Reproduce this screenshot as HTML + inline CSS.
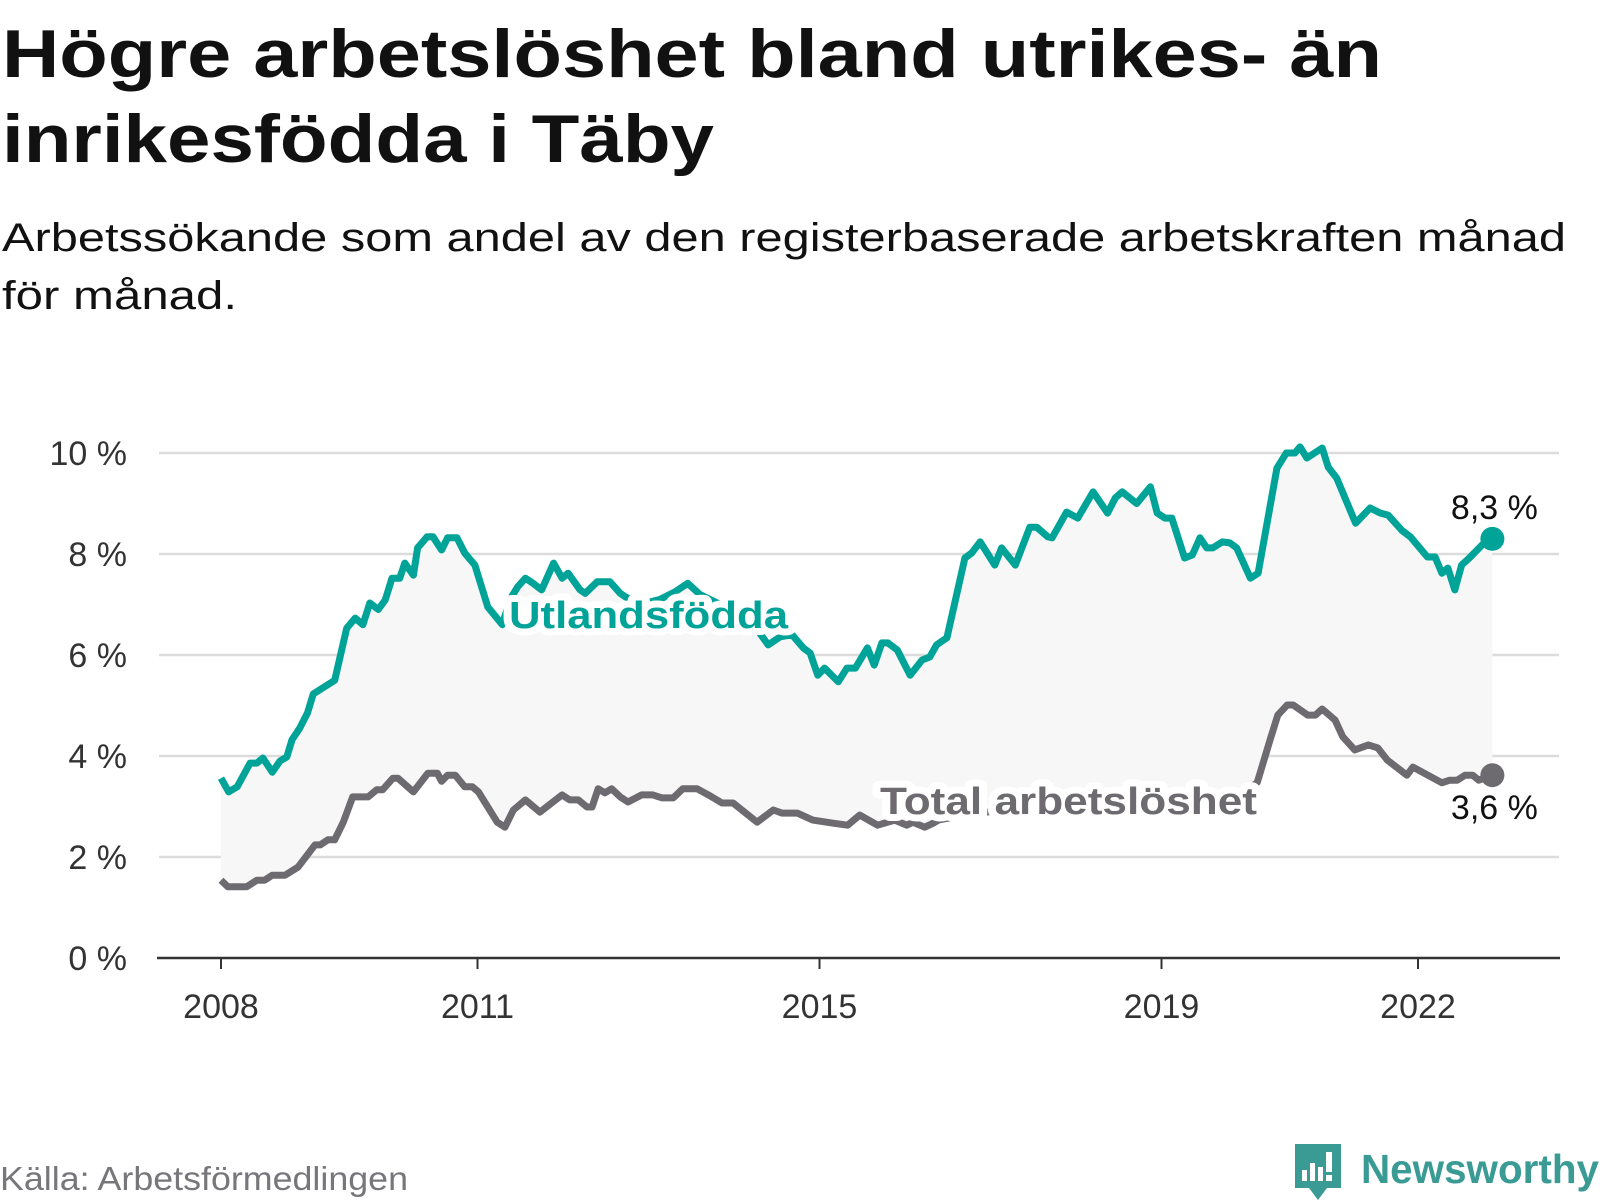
<!DOCTYPE html>
<html><head><meta charset="utf-8">
<style>
html,body{margin:0;padding:0;background:#fff;}
svg{display:block;font-family:"Liberation Sans",sans-serif;}
</style></head>
<body>
<svg id="chart" width="1600" height="1200" viewBox="0 0 1600 1200">
  <text x="2" y="77" font-size="68" font-weight="bold" fill="#111" textLength="1380" lengthAdjust="spacingAndGlyphs">Högre arbetslöshet bland utrikes- än</text>
  <text x="2" y="162" font-size="68" font-weight="bold" fill="#111" textLength="712" lengthAdjust="spacingAndGlyphs">inrikesfödda i Täby</text>
  <text x="2" y="251" font-size="40" fill="#111" textLength="1564" lengthAdjust="spacingAndGlyphs">Arbetssökande som andel av den registerbaserade arbetskraften månad</text>
  <text x="2" y="309" font-size="40" fill="#111" textLength="235" lengthAdjust="spacingAndGlyphs">för månad.</text>
  <g id="grid"></g>
  <g id="area"></g>
  <g id="lines"></g>
  <g id="labels"></g>
  <text x="0" y="1190" font-size="33" fill="#77767a" textLength="408" lengthAdjust="spacingAndGlyphs">Källa: Arbetsförmedlingen</text>
  <g>
    <path d="M1295 1144 h46 v44 h-14 l-9 12 l-9 -12 h-14 z" fill="#3a9a94"/>
    <rect x="1302" y="1170" width="5" height="11" fill="#fff"/>
    <rect x="1310" y="1163" width="5" height="18" fill="#fff"/>
    <rect x="1318" y="1167" width="5" height="14" fill="#fff"/>
    <rect x="1326" y="1152" width="6" height="20" fill="#fff"/>
    <rect x="1326" y="1175" width="6" height="6" fill="#fff"/>
    <text x="1361" y="1183" font-size="41" font-weight="bold" fill="#3a9a94" textLength="238" lengthAdjust="spacingAndGlyphs">Newsworthy</text>
  </g>
</svg>
<script>
const yTicks = [0, 2, 4, 6, 8, 10];
const xTicks = [2008, 2011, 2015, 2019, 2022];
const utlDates = [2008.0,2008.09,2008.19,2008.34,2008.42,2008.49,2008.60,2008.69,2008.77,2008.83,2008.92,2009.01,2009.08,2009.33,2009.47,2009.57,2009.66,2009.74,2009.84,2009.92,2010.00,2010.09,2010.15,2010.25,2010.30,2010.41,2010.48,2010.58,2010.65,2010.76,2010.85,2010.97,2011.12,2011.29,2011.38,2011.47,2011.56,2011.65,2011.75,2011.89,2011.99,2012.06,2012.20,2012.26,2012.40,2012.55,2012.67,2012.73,2012.90,2013.13,2013.31,2013.46,2013.60,2013.84,2014.07,2014.19,2014.34,2014.40,2014.54,2014.68,2014.81,2014.89,2014.98,2015.06,2015.22,2015.32,2015.42,2015.56,2015.64,2015.73,2015.80,2015.91,2016.06,2016.20,2016.29,2016.37,2016.49,2016.70,2016.78,2016.88,2017.05,2017.13,2017.29,2017.46,2017.54,2017.67,2017.72,2017.89,2018.02,2018.20,2018.37,2018.46,2018.54,2018.71,2018.87,2018.95,2019.04,2019.12,2019.27,2019.36,2019.45,2019.53,2019.60,2019.71,2019.80,2019.88,2020.04,2020.13,2020.35,2020.46,2020.56,2020.62,2020.70,2020.88,2020.95,2021.05,2021.27,2021.44,2021.56,2021.65,2021.81,2021.91,2022.02,2022.11,2022.20,2022.28,2022.35,2022.43,2022.51,2022.60,2022.75,2022.87];
const utlValues = [3.56,3.29,3.39,3.86,3.86,3.96,3.68,3.9,3.98,4.32,4.55,4.85,5.23,5.5,6.53,6.73,6.6,7.03,6.9,7.09,7.52,7.52,7.82,7.58,8.12,8.34,8.34,8.08,8.32,8.32,8.02,7.78,6.95,6.6,7.1,7.35,7.52,7.42,7.29,7.82,7.52,7.62,7.29,7.22,7.45,7.45,7.22,7.15,7.0,7.1,7.25,7.42,7.2,7.0,6.9,6.7,6.34,6.2,6.36,6.4,6.14,6.04,5.6,5.74,5.47,5.74,5.74,6.14,5.8,6.24,6.24,6.1,5.6,5.9,5.96,6.2,6.34,7.92,8.02,8.24,7.78,8.12,7.78,8.53,8.53,8.34,8.32,8.83,8.71,9.23,8.81,9.11,9.23,9.0,9.33,8.81,8.71,8.71,7.92,7.98,8.32,8.12,8.12,8.24,8.22,8.12,7.52,7.62,9.7,10.0,10.0,10.12,9.9,10.1,9.72,9.5,8.61,8.91,8.81,8.77,8.47,8.34,8.12,7.94,7.94,7.62,7.72,7.29,7.78,7.92,8.18,8.3];
const totDates = [2008.0,2008.08,2008.30,2008.42,2008.51,2008.60,2008.75,2008.90,2009.10,2009.16,2009.25,2009.33,2009.43,2009.54,2009.72,2009.82,2009.89,2010.01,2010.07,2010.25,2010.42,2010.53,2010.58,2010.65,2010.74,2010.85,2010.94,2011.01,2011.23,2011.32,2011.42,2011.56,2011.73,2011.99,2012.08,2012.18,2012.28,2012.34,2012.41,2012.49,2012.57,2012.67,2012.76,2012.92,2013.05,2013.16,2013.29,2013.40,2013.57,2013.70,2013.86,2013.99,2014.27,2014.46,2014.56,2014.74,2014.92,2015.16,2015.33,2015.47,2015.68,2015.88,2016.02,2016.09,2016.23,2016.33,2016.39,2016.6,2017.0,2017.5,2018.0,2018.5,2019.0,2019.5,2020.0,2020.12,2020.27,2020.36,2020.47,2020.54,2020.71,2020.80,2020.88,2021.03,2021.12,2021.26,2021.42,2021.53,2021.64,2021.87,2021.94,2022.28,2022.37,2022.46,2022.55,2022.64,2022.71,2022.87];
const totValues = [1.54,1.41,1.41,1.54,1.54,1.64,1.64,1.8,2.24,2.24,2.34,2.34,2.69,3.19,3.19,3.33,3.33,3.56,3.56,3.29,3.66,3.66,3.5,3.62,3.62,3.39,3.39,3.29,2.69,2.59,2.93,3.13,2.89,3.23,3.13,3.13,2.99,2.99,3.35,3.27,3.35,3.19,3.09,3.23,3.23,3.17,3.17,3.35,3.35,3.23,3.07,3.07,2.69,2.93,2.87,2.87,2.73,2.67,2.63,2.83,2.63,2.73,2.63,2.69,2.59,2.67,2.73,2.8,2.9,2.85,2.95,3.0,3.1,3.2,3.3,3.48,4.32,4.81,5.01,5.01,4.81,4.81,4.93,4.71,4.38,4.12,4.22,4.16,3.92,3.62,3.78,3.47,3.52,3.52,3.62,3.62,3.52,3.62];

const NS = 'http://www.w3.org/2000/svg';
function xScale(t){ return 221 + (t - 2008) * 85.5; }
function yScale(v){ return 958 - v * 50.5; }
function mk(tag, attrs, parent){
  const e = document.createElementNS(NS, tag);
  for (const k in attrs) e.setAttribute(k, attrs[k]);
  parent.appendChild(e);
  return e;
}
const grid = document.getElementById('grid');
yTicks.forEach(v => {
  if (v > 0) {
    const gl = mk('line', {x1:159, x2:1559, y1:yScale(v), y2:yScale(v), stroke:'#dcdcdc', 'stroke-width':2.5}, grid);
    
    
  }
  const t = mk('text', {x:127, y:yScale(v)+12, 'text-anchor':'end', 'font-size':34, fill:'#333'}, grid);
  t.textContent = v + ' %';
  
  
});
const ax = mk('line', {x1:157, x2:1560, y1:958, y2:958, stroke:'#333', 'stroke-width':2.5}, grid);


xTicks.forEach(yr => {
  const tk = mk('line', {x1:xScale(yr), x2:xScale(yr), y1:958, y2:969, stroke:'#333', 'stroke-width':2}, grid);
  
  
  const t = mk('text', {x:xScale(yr), y:1018, 'text-anchor':'middle', 'font-size':34, fill:'#333'}, grid);
  t.textContent = yr;
  
  
});
function pts(d, v){ return d.map((t,i)=>xScale(t).toFixed(1)+','+yScale(v[i]).toFixed(1)); }
const up = pts(utlDates, utlValues), tp = pts(totDates, totValues).reverse();
const band = mk('polygon', {points: up.concat(tp).join(' '), fill:'#f7f7f7'}, document.getElementById('area'));


const lines = document.getElementById('lines');
const lt = mk('polyline', {points: pts(totDates, totValues).join(' '), fill:'none', stroke:'#6d6b70', 'stroke-width':7, 'stroke-linejoin':'round'}, lines);


const lu = mk('polyline', {points: up.join(' '), fill:'none', stroke:'#00a398', 'stroke-width':7, 'stroke-linejoin':'round'}, lines);


const lastU = utlValues[utlValues.length-1], lastT = totValues[totValues.length-1];
const lastUd = utlDates[utlDates.length-1], lastTd = totDates[totDates.length-1];
const du = mk('circle', {cx:xScale(lastUd), cy:yScale(lastU), r:12, fill:'#00a398'}, lines);


const dt = mk('circle', {cx:xScale(lastTd), cy:yScale(lastT), r:12, fill:'#6d6b70'}, lines);


const lab = document.getElementById('labels');
function label(txt, x, y, size, color, bold, anchor, len, name){
  const h = mk('text', {x:x, y:y, 'font-size':size, 'font-weight':bold?'bold':'normal', 'text-anchor':anchor, stroke:'#fff', 'stroke-width':14, 'stroke-linejoin':'round', fill:'#fff'}, lab);
  if (len) { h.setAttribute('textLength', len); h.setAttribute('lengthAdjust','spacingAndGlyphs'); }
  h.textContent = txt;
  
  
  const t = mk('text', {x:x, y:y, 'font-size':size, 'font-weight':bold?'bold':'normal', 'text-anchor':anchor, fill:color}, lab);
  if (len) { t.setAttribute('textLength', len); t.setAttribute('lengthAdjust','spacingAndGlyphs'); }
  t.textContent = txt;
  
  
}
label('Utlandsfödda', 509, 628, 38, '#00a398', true, 'start', 279, 'utlandsfodda-label');
label('Total arbetslöshet', 880, 814, 38, '#6d6b70', true, 'start', 377, 'total-label');
label(lastU.toFixed(1).replace('.', ',') + ' %', xScale(lastUd)+2, 519, 34, '#111', false, 'middle', 0, 'utlandsfodda-end-value');
label(lastT.toFixed(1).replace('.', ',') + ' %', xScale(lastTd)+2, 819, 34, '#111', false, 'middle', 0, 'total-end-value');
</script>
</body></html>
